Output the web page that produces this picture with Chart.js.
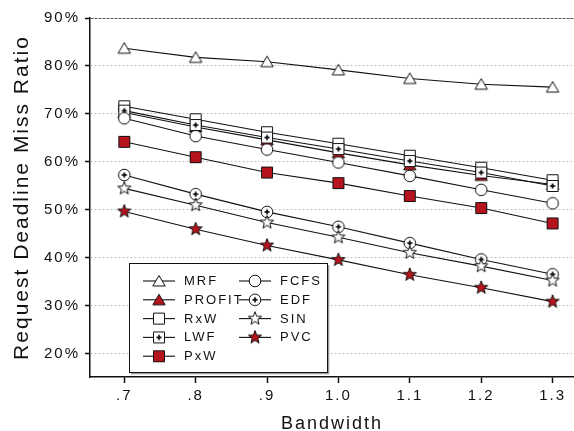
<!DOCTYPE html>
<html>
<head>
<meta charset="utf-8">
<script src="https://cdn.jsdelivr.net/npm/chart.js@4.4.1/dist/chart.umd.min.js"></script>
<style>
  html, body { margin: 0; padding: 0; background: #fff; }
</style>
</head>
<body>
<canvas id="chart" width="574" height="431"></canvas>
<script>
// Bandwidth values on the x axis and their printed labels.
const BANDWIDTH     = [0.7, 0.8, 0.9, 1.0, 1.1, 1.2, 1.3];
const X_TICK_LABELS = [".7", ".8", ".9", "1.0", "1.1", "1.2", "1.3"];
const Y_TICKS       = [20, 30, 40, 50, 60, 70, 80, 90];

// Request deadline miss ratio (%) for each policy.
const MRF    = [83.7, 81.8, 80.9, 79.2, 77.4, 76.2, 75.6];
const PROFIT = [70.3, 67.3, 64.6, 61.9, 59.4, 57.2, 55.3];
const RXW    = [71.6, 68.9, 66.2, 63.8, 61.3, 58.8, 56.2];
const LWF    = [70.7, 67.7, 65.1, 62.7, 60.2, 57.8, 55.0];
const PXW    = [64.2, 61.0, 57.8, 55.6, 52.9, 50.4, 47.2];
const FCFS   = [69.1, 65.4, 62.6, 59.9, 57.1, 54.2, 51.4];
const EDF    = [57.3, 53.3, 49.6, 46.5, 43.1, 39.7, 36.6];
const SIN    = [54.5, 51.0, 47.4, 44.3, 41.1, 38.3, 35.3];
const PVC    = [49.7, 46.0, 42.6, 39.6, 36.5, 33.8, 30.9];

const RED  = "#b5141c";
const INK  = "#111";
const FONT = '"Liberation Sans", Arial, sans-serif';

// Build a small canvas used as a point style (markers are not built-in shapes).
function make_marker (shape, fill, inner) {
    const size = 16;
    const c = document.createElement("canvas");
    c.width = size; c.height = size;
    const g = c.getContext("2d");
    g.translate(size / 2, size / 2);
    g.lineWidth = 1;
    g.strokeStyle = INK;
    g.fillStyle = fill;
    g.beginPath();
    if (shape === "triangle") {
        g.moveTo(0, -5.5); g.lineTo(6.2, 5); g.lineTo(-6.2, 5); g.closePath();
    } else if (shape === "square") {
        g.rect(-5.5, -5.5, 11, 11);
    } else if (shape === "circle") {
        g.arc(0, 0, 5.8, 0, Math.PI * 2);
    } else if (shape === "star") {
        for (let k = 0; k < 10; k++) {
            const r = k % 2 ? 2.9 : 6.9;
            const a = -Math.PI / 2 + k * Math.PI / 5;
            const px = Math.cos(a) * r, py = Math.sin(a) * r;
            k ? g.lineTo(px, py) : g.moveTo(px, py);
        }
        g.closePath();
    }
    g.fill();
    g.stroke();
    if (inner === "plus") {
        g.fillStyle = INK;
        g.fillRect(-2.5, -0.9, 5, 1.8);
        g.fillRect(-0.9, -2.5, 1.8, 5);
    }
    return c;
}

const SERIES = [
    ["MRF",    MRF,    make_marker("triangle", "#fff")],
    ["PROFIT", PROFIT, make_marker("triangle", RED)],
    ["RxW",    RXW,    make_marker("square", "#fff")],
    ["LWF",    LWF,    make_marker("square", "#fff", "plus")],
    ["PxW",    PXW,    make_marker("square", RED)],
    ["FCFS",   FCFS,   make_marker("circle", "#fff")],
    ["EDF",    EDF,    make_marker("circle", "#fff", "plus")],
    ["SIN",    SIN,    make_marker("star", "#fff")],
    ["PVC",    PVC,    make_marker("star", RED)]
];

const datasets = SERIES.map(([label, values, marker], i) => ({
    label: label,
    data: BANDWIDTH.map((x, j) => ({ x: x, y: values[j] })),
    borderColor: INK,
    borderWidth: 1.1,
    pointStyle: marker,
    pointRadius: 6,
    pointHoverRadius: 6,
    fill: false,
    tension: 0,
    order: SERIES.length - i   // later series drawn on top
}));

// Boxed two-column legend drawn inside the plot.
const box_legend = {
    id: "box_legend",
    beforeDraw (chart) {
        chart.ctx.letterSpacing = "2px";
    },
    afterDraw (chart) {
        const ctx = chart.ctx;
        ctx.save();
        ctx.fillStyle = "#fff";
        ctx.fillRect(129.5, 263.5, 198, 109);
        ctx.strokeStyle = "#999";
        ctx.lineWidth = 1.5;
        ctx.beginPath();
        ctx.moveTo(131, 373.5); ctx.lineTo(328.5, 373.5); ctx.lineTo(328.5, 265);
        ctx.stroke();
        ctx.strokeStyle = INK;
        ctx.lineWidth = 1;
        ctx.strokeRect(129.5, 263.5, 198, 109);

        ctx.font = "13px " + FONT;
        ctx.letterSpacing = "2px";
        ctx.textBaseline = "middle";
        ctx.textAlign = "left";
        chart.data.datasets.forEach((ds, i) => {
            const col = i < 5 ? 0 : 1;
            const row = col ? i - 5 : i;
            const x0 = col ? 239 : 143;
            const y = 281 + row * 18.8;
            ctx.strokeStyle = INK;
            ctx.lineWidth = 1.1;
            ctx.beginPath();
            ctx.moveTo(x0, y); ctx.lineTo(x0 + 32, y);
            ctx.stroke();
            const m = ds.pointStyle;
            ctx.drawImage(m, x0 + 16 - m.width / 2, y - m.height / 2);
            ctx.fillStyle = INK;
            ctx.fillText(ds.label, x0 + 41, y + 0.5);
        });
        ctx.restore();
    }
};

new Chart(document.getElementById("chart"), {
    type: "line",
    data: { datasets: datasets },
    options: {
        responsive: false,
        animation: false,
        layout: { autoPadding: false, padding: { top: 18, right: 0, bottom: 0, left: 0 } },
        plugins: {
            legend: { display: false },
            tooltip: { enabled: false }
        },
        scales: {
            x: {
                type: "linear",
                min: 0.652,
                max: 1.33,
                afterBuildTicks: (s) => { s.ticks = BANDWIDTH.map(v => ({ value: v })); },
                afterFit: (s) => { s.height = 54; s.paddingLeft = 0; s.paddingRight = 0; },
                ticks: {
                    callback: (v, i) => X_TICK_LABELS[i],
                    font: { family: FONT, size: 15 },
                    color: INK,
                    padding: 4,
                    maxRotation: 0,
                    autoSkip: false
                },
                grid: {
                    drawOnChartArea: false,
                    tickLength: 6,
                    tickColor: INK,
                    tickWidth: 1.5
                },
                border: { color: INK, width: 1.5 },
                title: {
                    display: true,
                    text: "Bandwidth",
                    color: INK,
                    font: { family: FONT, size: 18, lineHeight: 1 },
                    padding: { top: 0, bottom: -2 }
                }
            },
            y: {
                min: 15.2,
                max: 90,
                afterBuildTicks: (s) => { s.ticks = Y_TICKS.map(v => ({ value: v })); },
                afterFit: (s) => { s.width = 90; s.paddingTop = 0; s.paddingBottom = 0; },
                ticks: {
                    callback: (v) => v + "%",
                    font: { family: FONT, size: 15 },
                    color: INK,
                    padding: 5
                },
                grid: {
                    color: (c) => (c.tick && c.tick.value === 90) ? "#555" : "#c4c4c4",
                    lineWidth: 1,
                    tickLength: 5,
                    tickColor: INK,
                    tickWidth: 1.5,
                    tickBorderDash: []
                },
                border: {
                    color: INK,
                    width: 1.5,
                    dash: (c) => (c.tick && c.tick.value === 90) ? [3, 1] : [2, 2]
                },
                title: {
                    display: true,
                    text: "Request Deadline Miss Ratio",
                    color: INK,
                    font: { family: FONT, size: 21 },
                    padding: { top: 10, bottom: 0 }
                }
            }
        }
    },
    plugins: [box_legend]
});
</script>
</body>
</html>
